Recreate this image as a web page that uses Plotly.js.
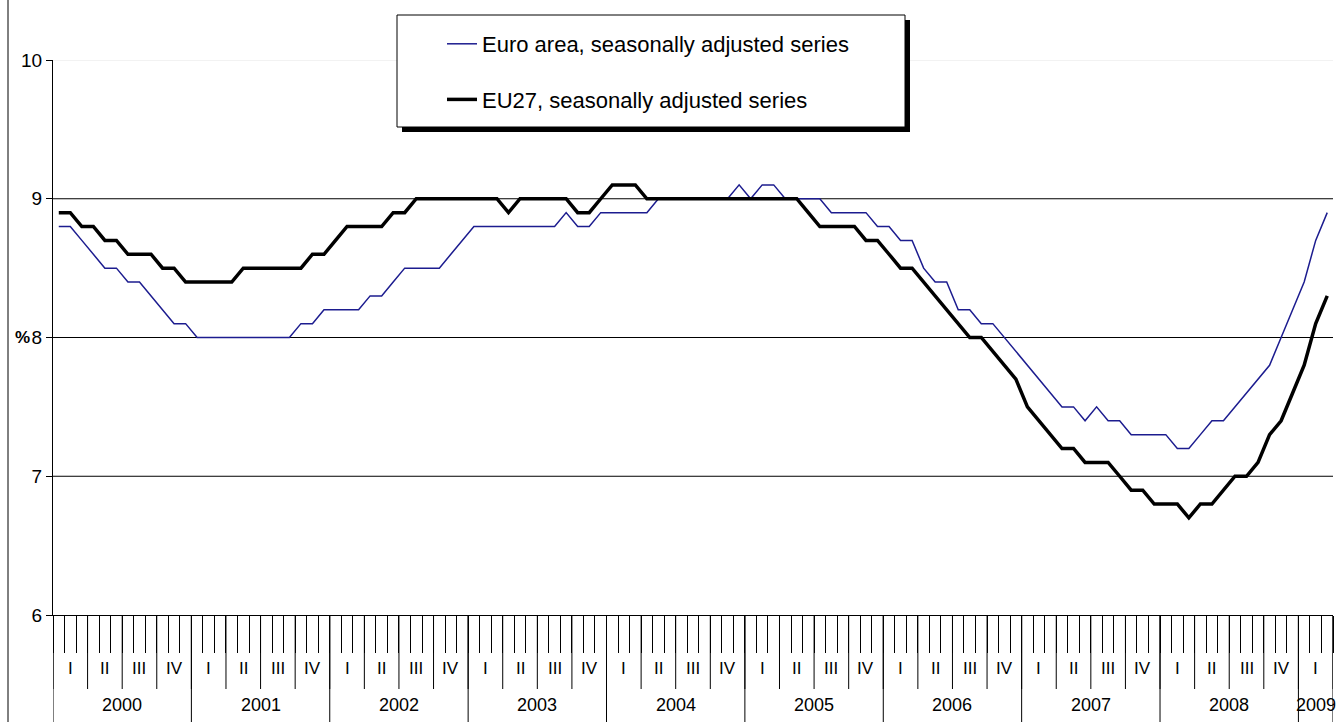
<!DOCTYPE html>
<html>
<head>
<meta charset="utf-8">
<script src="https://cdn.plot.ly/plotly-3.0.1.min.js"></script>
<style>html,body{margin:0;padding:0;background:#fff;}#chart{width:1338px;height:722px;}</style>
</head>
<body>
<div id="chart"></div>
<script>
// ---- data ----
const years = ['2000','2001','2002','2003','2004','2005','2006','2007','2008','2009'];
const monthsPerYear = 12;
const monthCount = 111; // Jan 2000 .. Mar 2009
const quarterLabels = ['I','II','III','IV'];

const euroArea = [
  8.8, 8.8, 8.7, 8.6, 8.5, 8.5, 8.4, 8.4, 8.3, 8.2, 8.1, 8.1,
  8.0, 8.0, 8.0, 8.0, 8.0, 8.0, 8.0, 8.0, 8.0, 8.1, 8.1, 8.2,
  8.2, 8.2, 8.2, 8.3, 8.3, 8.4, 8.5, 8.5, 8.5, 8.5, 8.6, 8.7,
  8.8, 8.8, 8.8, 8.8, 8.8, 8.8, 8.8, 8.8, 8.9, 8.8, 8.8, 8.9,
  8.9, 8.9, 8.9, 8.9, 9.0, 9.0, 9.0, 9.0, 9.0, 9.0, 9.0, 9.1,
  9.0, 9.1, 9.1, 9.0, 9.0, 9.0, 9.0, 8.9, 8.9, 8.9, 8.9, 8.8,
  8.8, 8.7, 8.7, 8.5, 8.4, 8.4, 8.2, 8.2, 8.1, 8.1, 8.0, 7.9,
  7.8, 7.7, 7.6, 7.5, 7.5, 7.4, 7.5, 7.4, 7.4, 7.3, 7.3, 7.3,
  7.3, 7.2, 7.2, 7.3, 7.4, 7.4, 7.5, 7.6, 7.7, 7.8, 8.0, 8.2,
  8.4, 8.7, 8.9
];
const eu27 = [
  8.9, 8.9, 8.8, 8.8, 8.7, 8.7, 8.6, 8.6, 8.6, 8.5, 8.5, 8.4,
  8.4, 8.4, 8.4, 8.4, 8.5, 8.5, 8.5, 8.5, 8.5, 8.5, 8.6, 8.6,
  8.7, 8.8, 8.8, 8.8, 8.8, 8.9, 8.9, 9.0, 9.0, 9.0, 9.0, 9.0,
  9.0, 9.0, 9.0, 8.9, 9.0, 9.0, 9.0, 9.0, 9.0, 8.9, 8.9, 9.0,
  9.1, 9.1, 9.1, 9.0, 9.0, 9.0, 9.0, 9.0, 9.0, 9.0, 9.0, 9.0,
  9.0, 9.0, 9.0, 9.0, 9.0, 8.9, 8.8, 8.8, 8.8, 8.8, 8.7, 8.7,
  8.6, 8.5, 8.5, 8.4, 8.3, 8.2, 8.1, 8.0, 8.0, 7.9, 7.8, 7.7,
  7.5, 7.4, 7.3, 7.2, 7.2, 7.1, 7.1, 7.1, 7.0, 6.9, 6.9, 6.8,
  6.8, 6.8, 6.7, 6.8, 6.8, 6.9, 7.0, 7.0, 7.1, 7.3, 7.4, 7.6,
  7.8, 8.1, 8.3
];
const seriesNames = ['Euro area, seasonally adjusted series', 'EU27, seasonally adjusted series'];
const yTicks = [6, 7, 8, 9, 10];

// category labels (one per month)
const months = [];
for (let i = 0; i < monthCount; i++) {
  const y = years[Math.floor(i / monthsPerYear)];
  const m = (i % monthsPerYear) + 1;
  months.push(y + '-' + (m < 10 ? '0' + m : m));
}

// ---- layout geometry (pixels) ----
const W = 1338, H = 722;
const L = 53, R = 5, T = 60, B = 107;
const pw = W - L - R, ph = H - T - B;
const px2x = p => (p - L) / pw;
const py2y = p => (H - B - p) / ph;
const FONT = 'Liberation Sans, Arial, sans-serif';

const shapes = [];
const annotations = [];

// horizontal grid lines
[7, 8, 9].forEach(v => shapes.push({type:'line', xref:'paper', yref:'y', x0:0, x1:1, y0:v, y1:v, line:{color:'#000', width:1}, layer:'below'}));
shapes.push({type:'line', xref:'paper', yref:'y', x0:0, x1:1, y0:10, y1:10, line:{color:'#e6e6e6', width:1}, layer:'below'});

// quarter boundaries
for (let q = 0; q <= monthCount / 3; q++) {
  const xb = q * 3 - 0.5;
  shapes.push({type:'line', xref:'x', yref:'paper', x0:xb, x1:xb, y0:0, y1:py2y(689), line:{color:'#000', width:1}});
}
// year boundaries
for (let y = 0; y <= years.length; y++) {
  const xb = Math.min(y * monthsPerYear, monthCount) - 0.5;
  shapes.push({type:'line', xref:'x', yref:'paper', x0:xb, x1:xb, y0:0, y1:py2y(H), line:{color:'#000', width:1}});
}
// quarter labels
for (let q = 0; q < monthCount / 3; q++) {
  annotations.push({xref:'x', yref:'paper', x:q * 3 + 1, y:py2y(669), text:quarterLabels[q % 4], showarrow:false, xanchor:'center', yanchor:'middle', font:{family:FONT, size:17, color:'#000'}});
}
// year labels
years.forEach((yr, y) => {
  const s = y * monthsPerYear, e = Math.min(s + monthsPerYear, monthCount) - 1;
  annotations.push({xref:'x', yref:'paper', x:(s + e) / 2, y:py2y(705), text:yr, showarrow:false, xanchor:'center', yanchor:'middle', font:{family:FONT, size:18, color:'#000'}});
});
// "%" unit label
annotations.push({xref:'paper', yref:'y', x:px2x(22), y:8, text:'<b>%</b>', showarrow:false, xanchor:'center', yanchor:'middle', font:{family:FONT, size:17, color:'#000'}});

// outer frame left edge
shapes.push({type:'line', xref:'paper', yref:'paper', x0:px2x(8), x1:px2x(8), y0:py2y(H), y1:py2y(0), line:{color:'#000', width:1}});

// legend box + shadow
shapes.push({type:'rect', xref:'paper', yref:'paper', x0:px2x(402), x1:px2x(910), y0:py2y(132), y1:py2y(20), fillcolor:'#000', line:{width:0}});
shapes.push({type:'rect', xref:'paper', yref:'paper', x0:px2x(397), x1:px2x(905), y0:py2y(127), y1:py2y(15), fillcolor:'#fff', line:{color:'#000', width:1}});

const traces = [
  {x: months, y: euroArea, type:'scatter', mode:'lines', name: seriesNames[0], legendgroup:'a',
   line:{color:'#1c1c8f', width:1.5}},
  {x: months, y: eu27, type:'scatter', mode:'lines', name: seriesNames[1], legendgroup:'b',
   line:{color:'#000', width:3.5}}
];

const layout = {
  width: W, height: H,
  margin: {l:L, r:R, t:T, b:B, pad:0},
  paper_bgcolor:'#fff', plot_bgcolor:'#fff',
  font:{family:FONT, color:'#000'},
  showlegend: true,
  legend: {x:px2x(442), xanchor:'left', y:py2y(23), yanchor:'top', bgcolor:'rgba(0,0,0,0)', borderwidth:0,
           font:{family:FONT, size:22, color:'#000'}, tracegroupgap:24, itemwidth:30},
  xaxis: {type:'category', range:[-0.5, monthCount - 0.5], tickmode:'linear', tick0:0, dtick:1,
          tickson:'boundaries', ticks:'outside', ticklen:37, tickcolor:'#000', tickwidth:1,
          showticklabels:false, showgrid:false, zeroline:false, showline:true, linecolor:'#000', linewidth:1, fixedrange:true},
  yaxis: {range:[6, 10], tickmode:'array', tickvals:yTicks, ticks:'outside', ticklen:6, tickcolor:'#000',
          tickfont:{family:FONT, size:19, color:'#000'}, showgrid:false, zeroline:false, showline:true,
          linecolor:'#000', linewidth:1, fixedrange:true},
  shapes: shapes,
  annotations: annotations
};

Plotly.newPlot('chart', traces, layout, {displayModeBar:false, staticPlot:true});
</script>
</body>
</html>
